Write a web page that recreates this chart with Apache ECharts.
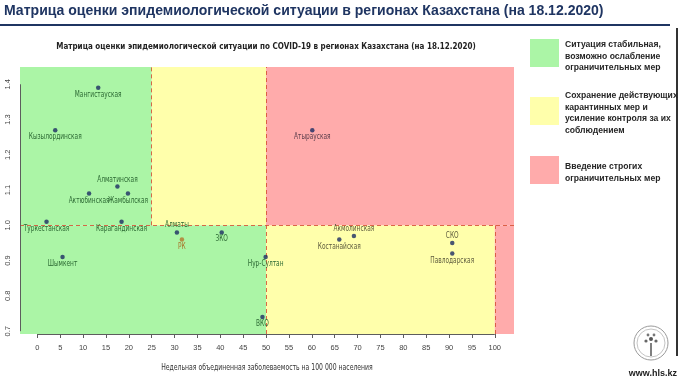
<!DOCTYPE html>
<html><head><meta charset="utf-8">
<script src="https://cdn.jsdelivr.net/npm/echarts@6/dist/echarts.min.js"></script>
<style>html,body{margin:0;padding:0;background:#fff}#c{width:680px;height:380px}</style>
</head><body><div id="c"></div>
<script>
// ---- data ----
const regions = ['Мангистауская','Кызылординская','Алматинская','Актюбинская','Жамбылская','Туркестанская','Карагандинская','Алматы','РК','ЗКО','Шымкент','Нур-Султан','ВКО','Атырауская','Акмолинская','Костанайская','СКО','Павлодарская'];
const incidence = [13.3, 3.9, 17.5, 11.3, 19.8, 2.0, 18.4, 30.5, 31.6, 40.3, 5.5, 49.9, 49.2, 60.1, 69.2, 66.0, 90.7, 90.7];
const rtValues = [1.39, 1.27, 1.11, 1.09, 1.09, 1.01, 1.01, 0.98, 0.96, 0.98, 0.91, 0.91, 0.74, 1.27, 0.97, 0.96, 0.95, 0.92];
const xTicks = [0,5,10,15,20,25,30,35,40,45,50,55,60,65,70,75,80,85,90,95,100];
const yTicks = [0.7,0.8,0.9,1.0,1.1,1.2,1.3,1.4];
const yTickLabels = ['0.7','0.8','0.9','1.0','1.1','1.2','1.3','1.4'];
const xThresholdLow = 25, xThresholdMid = 50, xThresholdHigh = 100, rtThreshold = 1.0;
const mainTitle = 'Матрица оценки эпидемиологической ситуации в регионах Казахстана (на 18.12.2020)';
const chartTitle = 'Матрица оценки эпидемиологической ситуации по COVID-19 в регионах Казахстана (на 18.12.2020)';
const xAxisName = 'Недельная объединенная заболеваемость на 100 000 населения';
const legendTexts = [
  ['Ситуация стабильная,','возможно ослабление','ограничительных мер'],
  ['Сохранение действующих','карантинных мер и','усиление контроля за их','соблюдением'],
  ['Введение строгих','ограничительных мер']
];
const namesAbove = ['Алматинская','Алматы','Акмолинская','СКО'];
const nationalName = 'РК';

// ---- styling / layout ----
const X_MIN = -3.8, X_MAX = 104.2, Y_MIN = 0.692, Y_MAX = 1.449;
const GREEN = '#abf5a6', YELLOW = '#ffffab', RED = '#ffabab';
const AXIS_C = '#5d5d5d';
const NARROW_SCALE = 0.73;

function zoneOf(x, y) {
  if (y >= rtThreshold) return x < xThresholdLow ? 'g' : (x < xThresholdMid ? 'y' : 'r');
  return x < xThresholdMid ? 'g' : (x < xThresholdHigh ? 'y' : 'r');
}
const labelColors = {g: '#2d6a34', y: '#5e5c3e', r: '#5c3e4c'};

const points = regions.map((name, i) => ({
  name: name,
  value: [incidence[i], rtValues[i]],
  itemStyle: {color: name === nationalName ? '#b5772c' : '#1b2c63'}
}));
const labelData = regions.map((name, i) => [incidence[i], rtValues[i], i]);

const zones = [
  [[X_MIN, rtThreshold], [xThresholdLow, Y_MAX], GREEN],
  [[X_MIN, Y_MIN], [xThresholdMid, rtThreshold], GREEN],
  [[xThresholdLow, rtThreshold], [xThresholdMid, Y_MAX], YELLOW],
  [[xThresholdMid, Y_MIN], [xThresholdHigh, rtThreshold], YELLOW],
  [[xThresholdMid, rtThreshold], [X_MAX, Y_MAX], RED],
  [[xThresholdHigh, Y_MIN], [X_MAX, rtThreshold], RED]
];
const dashStyle = {type: [4, 3], color: 'rgba(214,80,50,0.85)', width: 1};
const dashed = [
  [[xThresholdLow, rtThreshold], [xThresholdLow, Y_MAX]],
  [[xThresholdMid, Y_MIN], [xThresholdMid, Y_MAX]],
  [[X_MIN, rtThreshold], [X_MAX, rtThreshold]],
  [[xThresholdHigh, Y_MIN], [xThresholdHigh, rtThreshold]]
];
const axisLines = [
  [[xTicks[0], Y_MIN], [xTicks[xTicks.length-1], Y_MIN]],
  [[X_MIN, yTicks[0]], [X_MIN, yTicks[yTicks.length-1]]]
];

const legendTop = [39, 90, 161];
const squareTop = [39, 97, 156];
const graphics = [
  {type: 'text', x: 4, y: 3, scaleX: 0.906, style: {text: mainTitle, font: 'bold 15.5px "Liberation Sans", Arial, sans-serif', fill: '#1f3562'}},
  {type: 'rect', shape: {x: 0, y: 24, width: 670, height: 2}, style: {fill: '#1f3562'}},
  {type: 'text', x: 266, y: 47, scaleX: 0.757, style: {text: chartTitle, x: 0, y: 0, font: 'bold 9.5px "DejaVu Sans", sans-serif', fill: '#222', align: 'center', verticalAlign: 'middle'}},
  {type: 'text', x: 267, y: 368, scaleX: 0.72, style: {text: xAxisName, x: 0, y: 0, font: '8.5px "DejaVu Sans", sans-serif', fill: '#333', align: 'center', verticalAlign: 'middle'}},
  {type: 'rect', shape: {x: 676, y: 28, width: 2, height: 328}, style: {fill: '#333'}},
  {type: 'circle', shape: {cx: 651, cy: 343, r: 17}, style: {fill: 'none', stroke: '#9a9a9a', lineWidth: 1}},
  {type: 'circle', shape: {cx: 651, cy: 343, r: 14}, style: {fill: 'none', stroke: '#c4c4c4', lineWidth: 1}},
  {type: 'line', shape: {x1: 651, y1: 343, x2: 651, y2: 356}, style: {stroke: '#555', lineWidth: 1.5}},
  {type: 'circle', shape: {cx: 651, cy: 339, r: 2}, style: {fill: '#555'}},
  {type: 'circle', shape: {cx: 646, cy: 341, r: 1.6}, style: {fill: '#666'}},
  {type: 'circle', shape: {cx: 656, cy: 341, r: 1.6}, style: {fill: '#666'}},
  {type: 'circle', shape: {cx: 648, cy: 335, r: 1.4}, style: {fill: '#777'}},
  {type: 'circle', shape: {cx: 654, cy: 335, r: 1.4}, style: {fill: '#777'}},
  {type: 'text', x: 677, y: 374, style: {text: 'www.hls.kz', font: 'bold 9px "Liberation Sans", Arial, sans-serif', fill: '#222', align: 'right', verticalAlign: 'middle'}}
];
[GREEN, YELLOW, RED].forEach((c, i) => {
  graphics.push({type: 'rect', shape: {x: 530, y: squareTop[i], width: 29, height: 28}, style: {fill: c}});
  graphics.push({type: 'text', left: 565, top: legendTop[i], style: {text: legendTexts[i].join('\n'), font: 'bold 8.6px "Liberation Sans", sans-serif', lineHeight: 11.5, fill: '#262626'}});
});

const tickFont = {fontSize: 7.5, fontFamily: '"Liberation Sans", Arial, sans-serif', color: '#444'};
const option = {
  animation: false,
  backgroundColor: '#fff',
  grid: {left: 20, right: 166, top: 67, bottom: 46},
  xAxis: {
    type: 'value', min: X_MIN, max: X_MAX,
    splitLine: {show: false}, axisLine: {show: false},
    axisTick: {show: true, customValues: xTicks, length: 4, lineStyle: {color: AXIS_C}},
    axisLabel: Object.assign({customValues: xTicks, margin: 10}, tickFont)
  },
  yAxis: {
    type: 'value', min: Y_MIN, max: Y_MAX,
    splitLine: {show: false}, axisLine: {show: false},
    axisTick: {show: true, customValues: yTicks, length: 4, lineStyle: {color: AXIS_C}},
    axisLabel: Object.assign({customValues: yTicks, rotate: 90, margin: 8,
      formatter: v => yTickLabels[yTicks.findIndex(t => Math.abs(t - v) < 1e-6)] || ''}, tickFont)
  },
  graphic: graphics,
  series: [{
    type: 'scatter',
    symbolSize: 4.5,
    data: points,
    z: 5,
    markArea: {
      silent: true,
      z: 1,
      data: zones.map(z => [{coord: z[0], itemStyle: {color: z[2]}}, {coord: z[1]}])
    },
    markLine: {
      silent: true, symbol: 'none', animation: false,
      label: {show: false},
      data: dashed.map(d => [{coord: d[0], lineStyle: dashStyle}, {coord: d[1]}])
        .concat(axisLines.map(d => [{coord: d[0], lineStyle: {type: 'solid', color: AXIS_C, width: 1}}, {coord: d[1]}]))
    }
  }, {
    type: 'custom',
    z: 6,
    silent: true,
    data: labelData,
    renderItem: function (params, api) {
      const i = api.value(2);
      const name = regions[i];
      const p = api.coord([api.value(0), api.value(1)]);
      const above = namesAbove.indexOf(name) >= 0;
      const color = name === nationalName ? '#a8742a' : labelColors[zoneOf(incidence[i], rtValues[i])];
      return {
        type: 'text', x: p[0], y: p[1], scaleX: NARROW_SCALE,
        style: {text: name, x: 0, y: above ? -3 : 3, align: 'center', verticalAlign: above ? 'bottom' : 'top',
          font: '8px "DejaVu Sans", sans-serif', fill: color}
      };
    }
  }]
};
const chart = echarts.init(document.getElementById('c'), null, {renderer: 'canvas'});
chart.setOption(option);
</script>
</body></html>
